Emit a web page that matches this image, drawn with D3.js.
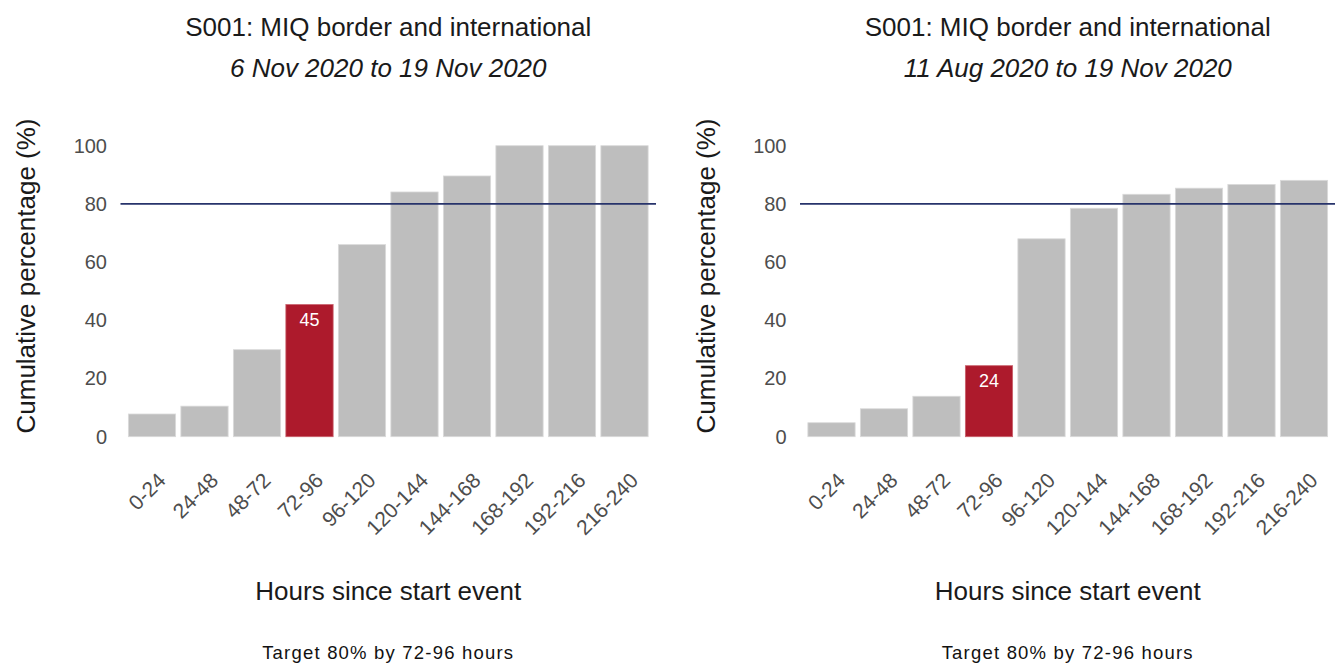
<!DOCTYPE html>
<html>
<head>
<meta charset="utf-8">
<script src="https://cdn.jsdelivr.net/npm/d3@7"></script>
<style>
    body { margin: 0; background: #fff; }
    svg { display: block; font-family: "Liberation Sans", Arial, sans-serif; }
</style>
</head>
<body>
<svg id="chart"></svg>
<script>
// Hour bands on the x axis
const categories = ["0-24", "24-48", "48-72", "72-96", "96-120", "120-144", "144-168", "168-192", "192-216", "216-240"];

// Cumulative percentages
const novValues = [7.8, 10.5, 29.9, 45.4, 66.0, 84.1, 89.6, 100, 100, 100];
const augValues = [4.8, 9.6, 13.9, 24.4, 68.0, 78.5, 83.3, 85.4, 86.7, 88.1];

const yTicks = [0, 20, 40, 60, 80, 100];
const target = 80;
const highlight = "72-96";

const titleText = "S001: MIQ border and international";
const subtitles = ["6 Nov 2020 to 19 Nov 2020", "11 Aug 2020 to 19 Nov 2020"];
const captionText = "Target 80% by 72-96 hours";

const totalWidth = 1335, totalHeight = 664;

const svg = d3.select("#chart")
    .attr("width", totalWidth)
    .attr("height", totalHeight);

function drawPanel(values, subtitle, offsetX) {
    const panelLeft = 120.5, panelRight = 656;
    const yTop = 145.7, yBottom = 436.7;
    const centerX = (panelLeft + panelRight) / 2;

    const g = svg.append("g")
        .attr("transform", `translate(${offsetX},0)`);

    const data = categories.map((c, i) => ({ band: c, value: values[i] }));

    const x = d3.scaleBand()
        .domain(categories)
        .range([panelLeft, panelRight])
        .paddingInner(0.1)
        .paddingOuter(0.15);

    const y = d3.scaleLinear()
        .domain([0, 100])
        .range([yBottom, yTop]);

    // Bars
    g.selectAll(".bar")
        .data(data)
        .enter().append("rect")
        .attr("class", "bar")
        .attr("x", d => x(d.band))
        .attr("y", d => y(d.value))
        .attr("width", x.bandwidth())
        .attr("height", d => y(0) - y(d.value))
        .style("fill", d => d.band === highlight ? "#AD1A2C" : "#BEBEBE")
        .style("stroke", d => d.band === highlight ? "#c9606b" : "#dadada")
        .style("stroke-width", 0.8);

    // Value label on the highlighted bar
    g.selectAll(".bar-label")
        .data(data.filter(d => d.band === highlight))
        .enter().append("text")
        .attr("class", "bar-label")
        .attr("x", d => x(d.band) + x.bandwidth() / 2)
        .attr("y", d => y(d.value) + 21)
        .attr("text-anchor", "middle")
        .style("fill", "#fff")
        .style("font-size", "18px")
        .text(d => d3.format("d")(Math.floor(d.value)));

    // Target line
    g.append("line")
        .attr("x1", panelLeft)
        .attr("x2", panelRight)
        .attr("y1", y(target))
        .attr("y2", y(target))
        .style("stroke", "#27336B")
        .style("stroke-width", 1.6);

    // Y axis (labels only)
    const yAxis = g.append("g")
        .attr("transform", `translate(${panelLeft},0)`)
        .call(d3.axisLeft(y).tickValues(yTicks).tickSize(0).tickPadding(13.5));
    yAxis.select(".domain").remove();
    yAxis.selectAll("text")
        .style("font-family", "'Liberation Sans', Arial, sans-serif")
        .style("font-size", "20px")
        .style("fill", "#4D4D4D");

    // X axis (rotated labels only)
    const xAxis = g.append("g")
        .attr("transform", `translate(0,${yBottom})`)
        .call(d3.axisBottom(x).tickSize(0));
    xAxis.select(".domain").remove();
    xAxis.selectAll("text")
        .style("font-family", "'Liberation Sans', Arial, sans-serif")
        .style("font-size", "21px")
        .style("fill", "#4D4D4D")
        .attr("text-anchor", "end")
        .attr("dy", null)
        .attr("y", 0)
        .attr("transform", "translate(15,45) rotate(-45)");

    // Titles
    g.append("text")
        .attr("x", centerX)
        .attr("y", 36)
        .attr("text-anchor", "middle")
        .style("font-size", "26px")
        .style("fill", "#1a1a1a")
        .text(titleText);

    g.append("text")
        .attr("x", centerX)
        .attr("y", 77)
        .attr("text-anchor", "middle")
        .style("font-size", "26px")
        .style("font-style", "italic")
        .style("fill", "#1a1a1a")
        .text(subtitle);

    // Axis titles
    g.append("text")
        .attr("transform", "translate(35,276) rotate(-90)")
        .attr("text-anchor", "middle")
        .style("font-size", "26px")
        .style("fill", "#1a1a1a")
        .text("Cumulative percentage (%)");

    g.append("text")
        .attr("x", centerX)
        .attr("y", 600)
        .attr("text-anchor", "middle")
        .style("font-size", "26px")
        .style("fill", "#1a1a1a")
        .text("Hours since start event");

    // Caption
    g.append("text")
        .attr("x", centerX)
        .attr("y", 659)
        .attr("text-anchor", "middle")
        .style("font-size", "18.5px")
        .style("letter-spacing", "1.2px")
        .style("fill", "#111")
        .text(captionText);
}

drawPanel(novValues, subtitles[0], 0);
drawPanel(augValues, subtitles[1], 679.5);
</script>
</body>
</html>
